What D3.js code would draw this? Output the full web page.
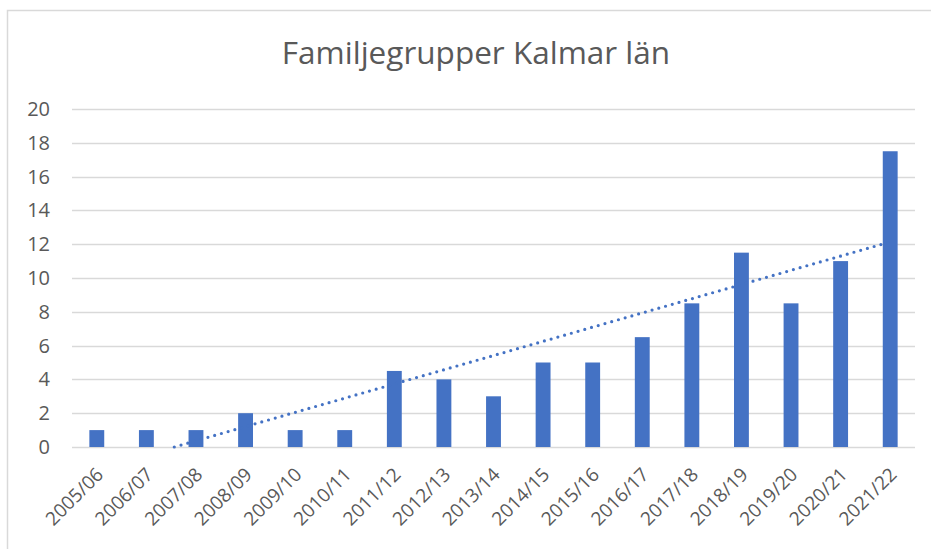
<!DOCTYPE html>
<html>
<head>
<meta charset="utf-8">
<script src="https://cdn.jsdelivr.net/npm/d3@7"></script>
<style>
  body { margin: 0; background: #fff; }
  text { font-family: "Open Sans", sans-serif; fill: #595959; }
</style>
</head>
<body>
<svg id="chart" width="931" height="549"></svg>
<script>
const seasons = ['2005/06', '2006/07', '2007/08', '2008/09', '2009/10', '2010/11', '2011/12',
  '2012/13', '2013/14', '2014/15', '2015/16', '2016/17', '2017/18', '2018/19', '2019/20',
  '2020/21', '2021/22'];
const groups = [1, 1, 1, 2, 1, 1, 4.5, 4, 3, 5, 5, 6.5, 8.5, 11.5, 8.5, 11, 17.5];
const yTicks = [0, 2, 4, 6, 8, 10, 12, 14, 16, 18, 20];

const svg = d3.select('#chart');
const margin = {left: 72, right: 16, top: 109, bottom: 102};
const width = 931, height = 549;

// chart frame
svg.append('rect')
  .attr('x', 7.5).attr('y', 10.5)
  .attr('width', 960).attr('height', 600)
  .attr('fill', 'none').attr('stroke', '#d9d9d9').attr('stroke-width', 1.5);

svg.append('text')
  .attr('x', 476).attr('y', 64)
  .attr('text-anchor', 'middle')
  .style('font-size', '31.5px')
  .text('Familjegrupper  Kalmar län');

const x = d3.scaleBand()
  .domain(seasons)
  .range([margin.left, width - margin.right])
  .paddingInner(0.7).paddingOuter(0.35);

const y = d3.scaleLinear()
  .domain([0, 20])
  .range([height - margin.bottom, margin.top]);

// gridlines
svg.append('g')
  .selectAll('line')
  .data(yTicks)
  .join('line')
    .attr('x1', margin.left).attr('x2', width - margin.right)
    .attr('y1', d => Math.round(y(d)) + 0.5).attr('y2', d => Math.round(y(d)) + 0.5)
    .attr('stroke', '#d9d9d9').attr('stroke-width', 1.5);

// y labels
svg.append('g')
  .selectAll('text')
  .data(yTicks)
  .join('text')
    .attr('x', 50).attr('y', d => y(d))
    .attr('dy', '0.35em')
    .attr('text-anchor', 'end')
    .style('font-size', '20px')
    .text(d => d);

// bars
svg.append('g')
  .selectAll('rect')
  .data(groups)
  .join('rect')
    .attr('x', (d, i) => x(seasons[i]))
    .attr('y', d => y(d))
    .attr('width', x.bandwidth())
    .attr('height', d => y(0) - y(d))
    .attr('fill', '#4472c4');

// linear trendline (least squares), clipped at zero
const n = groups.length;
const mx = d3.mean(groups, (d, i) => i + 1);
const my = d3.mean(groups);
const slope = d3.sum(groups, (d, i) => (i + 1 - mx) * (d - my)) / d3.sum(groups, (d, i) => (i + 1 - mx) ** 2);
const icpt = my - slope * mx;
const x0 = -icpt / slope;
const pos = i => x(seasons[0]) + x.bandwidth() / 2 + (i - 1) * x.step();

svg.append('line')
  .attr('x1', pos(x0)).attr('y1', y(0))
  .attr('x2', pos(n)).attr('y2', y(icpt + slope * n))
  .attr('stroke', '#4472c4')
  .attr('stroke-width', 3.2)
  .attr('stroke-linecap', 'round')
  .attr('stroke-dasharray', '0 7');

// x labels
svg.append('g')
  .selectAll('text')
  .data(seasons)
  .join('text')
    .attr('transform', d => `translate(${x(d) + x.bandwidth() / 2 + 3},${y(0) + 24}) rotate(-45)`)
    .attr('text-anchor', 'end')
    .attr('dy', '0.35em')
    .style('font-size', '19px')
    .text(d => d);
</script>
</body>
</html>
